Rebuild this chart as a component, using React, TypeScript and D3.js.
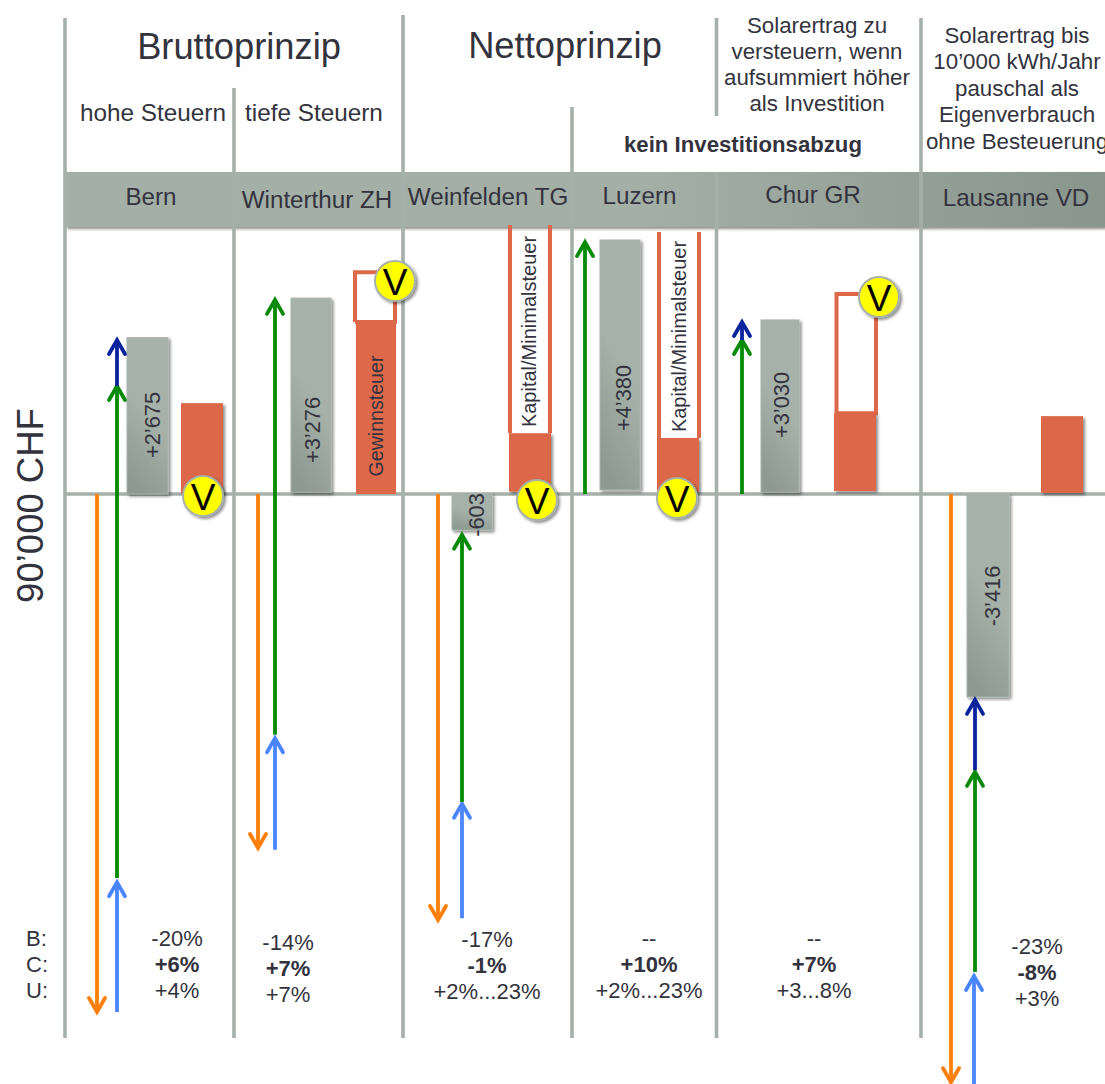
import { useRef, useEffect } from 'react';
import * as d3 from 'd3';

// Values in CHF
const cities = ['Bern', 'Winterthur ZH', 'Weinfelden TG', 'Luzern', 'Chur GR', 'Lausanne VD'];
const barLabels = ['+2’675', '+3’276', '-603', '+4’380', '+3’030', '-3’416'];
const barValues = [2650, 3320, -610, 4305, 2950, -3440];
const barBases = [0, 30, 0, 70, 30, 0];
const taxValues = [1540, 2915, 1030, 950, 1370, 1320];
const taxBases = [0, 0, 40, 40, 50, 20];
const taxCeilings = [null, 3760, 4560, 4440, 3390, null];
const taxLabels = [null, 'Gewinnsteuer', 'Kapital/Minimalsteuer', 'Kapital/Minimalsteuer', null, null];
const taxOutlineOpen = [false, false, true, true, false, false];

const orangeArrows = [[0, -8780], [0, -6000], [0, -7220], null, null, [0, -9970]];
const blueArrows = [[-8780, -6580], [-6030, -4140], [-7190, -5250], null, null, [-10000, -8170]];
const greenArrows = [[-6510, 1830], [-4080, 3290], [-5220, -690], [0, 4270], [0, 2610], [-8100, -4710]];
const navyArrows = [[1830, 2610], null, null, null, [2610, 2915], [-4680, -3490]];

const rowLabels = ['B:', 'C:', 'U:'];
const bruttoPct = ['-20%', '-14%', '-17%', '--', '--', '-23%'];
const comparisonPct = ['+6%', '+7%', '-1%', '+10%', '+7%', '-8%'];
const upperPct = ['+4%', '+7%', '+2%...23%', '+2%...23%', '+3...8%', '+3%'];

// Layout of the slide (pixels)
const dividers = [
    { x: 65, y1: 18, y2: 1038 },
    { x: 234, y1: 88, y2: 1038 },
    { x: 403, y1: 15, y2: 1038 },
    { x: 572, y1: 107, y2: 1038 },
    { x: 716.5, y1: 18, y2: 116 },
    { x: 716.5, y1: 172, y2: 1038 },
    { x: 921, y1: 18, y2: 1038 },
];
const cityX = [151, 317, 488, 639.5, 813, 1016];
const cityY = [196, 199, 196, 195, 194.5, 197];
const barX = [127, 291, 452, 600, 761, 967];
const barW = [41, 40, 40, 40, 38, 42];
const taxX = [181, 356, 509, 657, 834, 1041];
const taxW = [42, 40, 42, 42, 42, 42];
const outlineLeft = [0, 355, 510, 659, 836.5, 0];
const outlineRight = [0, 395, 550, 699, 876, 0];
const orangeX = [97, 258, 438, 0, 0, 951];
const riseX = [117, 275, 462, 585, 742, 975];
const barLabelX = [152, 312, 476, 623, 781, 992];
const barLabelY = [425, 430, 515, 398, 405, 596];
const taxLabelX = [0, 376, 529, 679, 0, 0];
const taxLabelY = [0, 416, 331.5, 336.5, 0, 0];
const pctX = [177, 288, 487, 649, 814, 1037];
const pctY = [938.5, 942.5, 939.5, 938.5, 938.5, 946.5];
const badges = [[203, 496], [395, 281], [537, 500], [677, 498], [879, 297]];

const ink = '#33333d';
const lineGrey = '#a6b0ab';
const taxRed = '#dd684a';
const green = '#078a07';
const orange = '#ff7f0a';
const blue = '#4a85ff';
const navy = '#0a239c';
const font = '"Liberation Sans", Arial, sans-serif';

export default function App() {
    const svgRef = useRef<SVGSVGElement>(null);

    useEffect(() => {
        if (!svgRef.current) return;

        const svg = d3.select(svgRef.current);
        svg.selectAll('*').remove();

        const yScale = d3.scaleLinear().domain([-10000, 5000]).range([1084, 199]);
        const lineGen = d3.line();

        const defs = svg.append('defs');
        const shadow = defs.append('filter')
            .attr('id', 'shadow')
            .attr('x', '-30%').attr('y', '-30%')
            .attr('width', '160%').attr('height', '160%');
        shadow.append('feDropShadow')
            .attr('dx', 2).attr('dy', 2)
            .attr('stdDeviation', 1.8)
            .attr('flood-color', '#000')
            .attr('flood-opacity', 0.45);

        const barGrad = defs.append('linearGradient')
            .attr('id', 'barGrad')
            .attr('x1', 0.55).attr('y1', 0.5).attr('x2', 0.4).attr('y2', 1);
        barGrad.append('stop').attr('offset', 0).attr('stop-color', '#a6b1a9');
        barGrad.append('stop').attr('offset', 1).attr('stop-color', '#8d9a91');

        const bandGrad = defs.append('linearGradient').attr('id', 'bandGrad');
        bandGrad.append('stop').attr('offset', 0).attr('stop-color', '#a3afa7');
        bandGrad.append('stop').attr('offset', 0.55).attr('stop-color', '#a3afa7');
        bandGrad.append('stop').attr('offset', 1).attr('stop-color', '#89968d');

        const addText = (
            s: string, x: number, y: number, size: number,
            opts: { anchor?: string; weight?: string; rotate?: boolean; fill?: string } = {},
        ) => {
            svg.append('text')
                .attr('transform', `translate(${x},${y})${opts.rotate ? ' rotate(-90)' : ''}`)
                .attr('text-anchor', opts.anchor ?? 'middle')
                .attr('dominant-baseline', 'central')
                .attr('font-family', font)
                .attr('font-size', size)
                .attr('font-weight', opts.weight ?? 'normal')
                .attr('fill', opts.fill ?? ink)
                .text(s);
        };

        const addArrow = (x: number, range: number[] | null, color: string) => {
            if (!range) return;
            const y1 = yScale(range[0]);
            const y2 = yScale(range[1]);
            const dir = y2 > y1 ? 1 : -1;
            const g = svg.append('g')
                .attr('fill', 'none')
                .attr('stroke', color)
                .attr('stroke-width', 3.8);
            g.append('path').attr('d', lineGen([[x, y1], [x, y2 - dir]]));
            g.append('path')
                .attr('stroke-linecap', 'round')
                .attr('stroke-linejoin', 'miter')
                .attr('d', lineGen([[x - 8, y2 - dir * 14], [x, y2], [x + 8, y2 - dir * 14]]));
        };

        // Header band
        svg.append('rect')
            .attr('x', 65).attr('y', 172)
            .attr('width', 1040).attr('height', 55)
            .attr('fill', 'url(#bandGrad)')
            .attr('filter', 'url(#shadow)');

        // Column dividers and zero line
        dividers.forEach(d => {
            svg.append('line')
                .attr('x1', d.x).attr('x2', d.x)
                .attr('y1', d.y1).attr('y2', d.y2)
                .attr('stroke', lineGrey)
                .attr('stroke-width', 3.6);
        });
        svg.append('line')
            .attr('x1', 65).attr('x2', 1105)
            .attr('y1', yScale(0)).attr('y2', yScale(0))
            .attr('stroke', lineGrey)
            .attr('stroke-width', 3.6);

        // Headline texts
        addText('Bruttoprinzip', 239, 46.5, 36.3);
        addText('Nettoprinzip', 565, 45.5, 36.3);
        addText('hohe Steuern', 153, 112.5, 24.3);
        addText('tiefe Steuern', 314, 112.5, 24.3);
        addText('kein Investitionsabzug', 743, 144, 22.2, { weight: 'bold' });
        ['Solarertrag zu', 'versteuern, wenn', 'aufsummiert höher', 'als Investition'].forEach((s, i) => {
            addText(s, 817, 25.5 + i * 26, 22.3);
        });
        ['Solarertrag bis', '10’000 kWh/Jahr', 'pauschal als', 'Eigenverbrauch', 'ohne Besteuerung'].forEach((s, i) => {
            addText(s, 1017, 35 + i * 26.5, 22.3);
        });
        addText('90’000 CHF', 30, 505.5, 36.5, { rotate: true });

        cities.forEach((city, i) => addText(city, cityX[i], cityY[i], 24.2));

        // Tax bars with their outlined ceiling
        cities.forEach((_, i) => {
            const ceiling = taxCeilings[i];
            if (ceiling !== null) {
                const left = outlineLeft[i];
                const right = outlineRight[i];
                const top = yScale(ceiling);
                const bottom = yScale(taxValues[i]);
                if (taxOutlineOpen[i]) {
                    svg.append('path')
                        .attr('d', lineGen([[left, bottom], [left, top]]))
                        .attr('fill', 'none').attr('stroke', taxRed).attr('stroke-width', 4);
                    svg.append('path')
                        .attr('d', lineGen([[right, top], [right, bottom]]))
                        .attr('fill', 'none').attr('stroke', taxRed).attr('stroke-width', 4);
                } else {
                    svg.append('path')
                        .attr('d', lineGen([[left, bottom], [left, top], [right, top], [right, bottom], [left, bottom]]))
                        .attr('fill', 'none').attr('stroke', taxRed).attr('stroke-width', 4);
                }
            }
            svg.append('rect')
                .attr('x', taxX[i])
                .attr('y', yScale(taxValues[i]))
                .attr('width', taxW[i])
                .attr('height', yScale(taxBases[i]) - yScale(taxValues[i]))
                .attr('fill', taxRed)
                .attr('filter', i === 1 ? null : 'url(#shadow)');
        });

        // Grey result bars
        cities.forEach((_, i) => {
            const y0 = yScale(Math.max(barValues[i], 0));
            const y1 = barValues[i] > 0 ? yScale(barBases[i]) : yScale(0);
            svg.append('rect')
                .attr('x', barX[i])
                .attr('y', y0)
                .attr('width', barW[i])
                .attr('height', barValues[i] > 0 ? y1 - y0 : yScale(barValues[i]) - y0)
                .attr('fill', 'url(#barGrad)')
                .attr('stroke', '#a8b3ab')
                .attr('stroke-width', 1)
                .attr('filter', 'url(#shadow)');
        });

        // Arrows
        cities.forEach((_, i) => {
            addArrow(orangeX[i], orangeArrows[i], orange);
            addArrow(riseX[i] - (i === 5 ? 1 : 0), blueArrows[i], blue);
            addArrow(riseX[i], greenArrows[i], green);
            addArrow(riseX[i], navyArrows[i], navy);
        });

        // Rotated labels
        cities.forEach((_, i) => {
            addText(barLabels[i], barLabelX[i], barLabelY[i], 21.8, { rotate: true });
            const label = taxLabels[i];
            if (label) addText(label, taxLabelX[i], taxLabelY[i], i === 1 ? 19.6 : 20, { rotate: true });
        });

        // V badges
        badges.forEach(([x, y]) => {
            svg.append('circle')
                .attr('cx', x).attr('cy', y).attr('r', 20)
                .attr('fill', '#ffff00')
                .attr('stroke', '#a6b0ab')
                .attr('stroke-width', 2)
                .attr('filter', 'url(#shadow)');
            addText('V', x, y + 1, 37, { fill: '#000' });
        });

        // Percent rows
        rowLabels.forEach((s, i) => addText(s, 26, 938.5 + i * 26, 22, { anchor: 'start' }));
        cities.forEach((_, i) => {
            addText(bruttoPct[i], pctX[i], pctY[i], 22);
            addText(comparisonPct[i], pctX[i], pctY[i] + 26, 22, { weight: 'bold' });
            addText(upperPct[i], pctX[i], pctY[i] + 52, 22);
        });
    }, []);

    return (
        <svg
            ref={svgRef}
            width={1105}
            height={1084}
            style={{ position: 'absolute', left: 0, top: 0, display: 'block', background: '#fff' }}
        />
    );
}
